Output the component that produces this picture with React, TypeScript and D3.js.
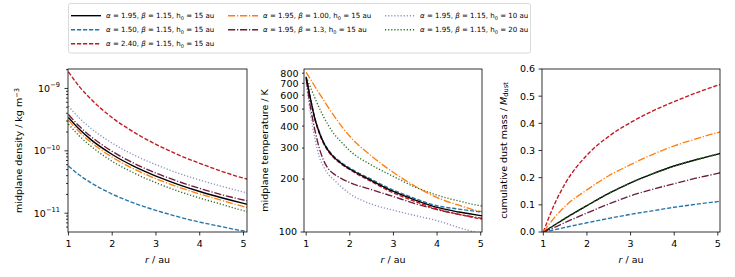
import React, { useEffect, useRef } from 'react';
import * as d3 from 'd3';

const FONT = 'DejaVu Sans, sans-serif';

// series: alpha, beta, h0 -> style
const SERIES_KEYS = ['ref', 'a150', 'a240', 'b100', 'b130', 'h10', 'h20'];
const SERIES_COLORS = ['#000000', '#2574a9', '#c4161c', '#ff7f0e', '#6b1d3d', '#8d93c2', '#2f6b1f'];
const SERIES_DASH = ['', '4.2,1.8', '4.2,1.8', '7.2,1.8,1.2,1.8', '7.2,1.8,1.2,1.8', '1.2,1.9', '1.2,1.9'];
const SERIES_ALPHA = ['1.95', '1.50', '2.40', '1.95', '1.95', '1.95', '1.95'];
const SERIES_BETA = ['1.15', '1.15', '1.15', '1.00', '1.3', '1.15', '1.15'];
const SERIES_H0 = ['15', '15', '15', '15', '15', '10', '20'];
// legend slots (column, row)
const LEGEND_SLOT = [[0, 0], [0, 1], [0, 2], [1, 0], [1, 1], [2, 0], [2, 1]];

// panel 1: midplane density (kg m^-3)
const R_DENS = [1, 1.25, 1.5, 2, 2.5, 3, 3.5, 4, 4.5, 5, 5.1];
const DENS_REF = [3.43e-10, 2.21e-10, 1.54e-10, 8.75e-11, 5.64e-11, 3.94e-11, 2.91e-11, 2.23e-11, 1.77e-11, 1.44e-11, 1.385e-11];
const DENS_A150 = [5.7e-11, 4.09e-11, 3.12e-11, 2.03e-11, 1.45e-11, 1.11e-11, 8.8e-12, 7.2e-12, 6.1e-12, 5.2e-12, 5.1e-12];
const DENS_A240 = [1.85e-9, 1.07e-9, 6.9e-10, 3.4e-10, 1.98e-10, 1.27e-10, 8.7e-11, 6.3e-11, 4.7e-11, 3.65e-11, 3.5e-11];
const DENS_B100 = [3.11e-10, 2.0e-10, 1.4e-10, 7.9e-11, 5.1e-11, 3.57e-11, 2.64e-11, 2.03e-11, 1.61e-11, 1.28e-11, 1.23e-11];
const DENS_B130 = [3.84e-10, 2.47e-10, 1.73e-10, 9.8e-11, 6.3e-11, 4.4e-11, 3.25e-11, 2.5e-11, 1.98e-11, 1.63e-11, 1.57e-11];
const DENS_H10 = [5.2e-10, 3.35e-10, 2.34e-10, 1.33e-10, 8.55e-11, 6.0e-11, 4.4e-11, 3.4e-11, 2.7e-11, 2.18e-11, 2.1e-11];
const DENS_H20 = [2.68e-10, 1.73e-10, 1.21e-10, 6.8e-11, 4.4e-11, 3.08e-11, 2.27e-11, 1.75e-11, 1.39e-11, 1.1e-11, 1.06e-11];

// panel 2: midplane temperature (K)
const R_TEMP = [1, 1.1, 1.2, 1.3, 1.4, 1.5, 1.6, 1.8, 2, 2.5, 3, 3.5, 4, 4.5, 5, 5.1];
const TEMP_REF = [760, 570, 440, 368, 322, 292, 272, 246, 228, 196, 170, 152, 138, 130, 124, 123];
const TEMP_A150 = [765, 575, 445, 372, 325, 295, 275, 249, 231, 199, 173, 155, 141, 135, 130, 129];
const TEMP_A240 = [755, 566, 436, 364, 318, 289, 269, 244, 226, 193, 167, 149, 135, 126, 119, 118];
const TEMP_B100 = [810, 738, 672, 614, 562, 514, 472, 403, 350, 270, 218, 182, 157, 142, 131, 130];
const TEMP_B130 = [740, 510, 380, 300, 255, 230, 217, 202, 191, 174, 159, 145, 134, 126, 120, 119];
const TEMP_H10 = [708, 470, 340, 268, 235, 214, 202, 181, 165, 144, 133, 124, 116, 106, 98, 97];
const TEMP_H20 = [758, 662, 578, 508, 452, 408, 372, 326, 290, 240, 207, 180, 162, 150, 141, 140];

// panel 3: cumulative dust mass / M_dust
const R_MASS = [1, 1.25, 1.5, 2, 2.5, 3, 3.5, 4, 4.5, 5, 5.1];
const MASS_REF = [0, 0.025, 0.05, 0.097, 0.142, 0.181, 0.214, 0.243, 0.266, 0.287, 0.291];
const MASS_A150 = [0, 0.008, 0.017, 0.034, 0.05, 0.065, 0.078, 0.091, 0.102, 0.112, 0.114];
const MASS_A240 = [0, 0.1, 0.178, 0.283, 0.352, 0.403, 0.445, 0.48, 0.512, 0.54, 0.545];
const MASS_B100 = [0, 0.052, 0.095, 0.155, 0.207, 0.248, 0.285, 0.317, 0.343, 0.366, 0.37];
const MASS_B130 = [0, 0.017, 0.035, 0.07, 0.103, 0.133, 0.157, 0.178, 0.198, 0.216, 0.22];
const MASS_H10 = [0, 0.025, 0.05, 0.097, 0.142, 0.181, 0.214, 0.243, 0.266, 0.287, 0.291];
const MASS_H20 = [0, 0.025, 0.05, 0.097, 0.142, 0.181, 0.214, 0.243, 0.266, 0.287, 0.291];

const X_TICKS = [1, 2, 3, 4, 5];
const DENS_MAJOR = [1e-9, 1e-10, 1e-11];
const TEMP_TICKS = [100, 200, 300, 400, 500, 600, 700, 800];
const MASS_TICKS = [0, 0.1, 0.2, 0.3, 0.4, 0.5, 0.6];

const TOP = 69;
const BOTTOM = 232;

function App() {
  const svgRef = useRef(null);

  useEffect(() => {
    const svg = d3.select(svgRef.current);
    svg.selectAll('*').remove();
    svg.style('font-family', FONT);

    const addPanel = (idx, left, right, xDomain, y, rs, series, drawOrder) => {
      const x = d3.scaleLinear().domain(xDomain).range([left, right]);
      const g = svg.append('g');
      g.append('clipPath').attr('id', `clip${idx}`)
        .append('rect')
        .attr('x', left).attr('y', TOP)
        .attr('width', right - left).attr('height', BOTTOM - TOP);

      const line = d3.line()
        .x((d) => x(d[0]))
        .y((d) => y(d[1]))
        .curve(d3.curveMonotoneX);

      const lines = g.append('g').attr('clip-path', `url(#clip${idx})`);
      drawOrder.forEach((i) => {
        const pts = rs.map((r, j) => [r, series[i][j]]);
        lines.append('path')
          .attr('d', line(pts))
          .attr('fill', 'none')
          .attr('stroke', SERIES_COLORS[i])
          .attr('stroke-width', 1.35)
          .attr('stroke-dasharray', SERIES_DASH[i] || null);
      });

      // x ticks
      X_TICKS.forEach((t) => {
        g.append('line')
          .attr('x1', x(t)).attr('x2', x(t))
          .attr('y1', BOTTOM).attr('y2', BOTTOM + 3.5)
          .attr('stroke', '#000').attr('stroke-width', 0.8);
        g.append('text')
          .attr('x', x(t)).attr('y', BOTTOM + 15)
          .attr('text-anchor', 'middle')
          .attr('font-size', 9.5)
          .text(t);
      });

      const xl = g.append('text')
        .attr('x', (left + right) / 2).attr('y', 263)
        .attr('text-anchor', 'middle')
        .attr('font-size', 9.5);
      xl.append('tspan').attr('font-style', 'italic').text('r');
      xl.append('tspan').text(' / au');

      // frame
      g.append('rect')
        .attr('x', left).attr('y', TOP)
        .attr('width', right - left).attr('height', BOTTOM - TOP)
        .attr('fill', 'none')
        .attr('stroke', '#000')
        .attr('stroke-width', 0.8);
      return g;
    };

    const yTick = (g, left, yy, len) => {
      g.append('line')
        .attr('x1', left - len).attr('x2', left)
        .attr('y1', yy).attr('y2', yy)
        .attr('stroke', '#000').attr('stroke-width', 0.8);
    };

    const yLabel = (g, xx, parts) => {
      const t = g.append('text')
        .attr('transform', `translate(${xx},${(TOP + BOTTOM) / 2}) rotate(-90)`)
        .attr('text-anchor', 'middle')
        .attr('font-size', 9.5);
      parts.forEach((p) => {
        const ts = t.append('tspan').text(p.text);
        if (p.italic) ts.attr('font-style', 'italic');
        if (p.sup) ts.attr('font-size', 6.7).attr('baseline-shift', '40%');
        if (p.sub) ts.attr('font-size', 6.7).attr('baseline-shift', '-20%');
      });
    };

    // ---- panel 1: density
    const dens = [DENS_REF, DENS_A150, DENS_A240, DENS_B100, DENS_B130, DENS_H10, DENS_H20];
    const yD = d3.scaleLog().domain([5.0e-12, 2.05e-9]).range([BOTTOM, TOP]);
    const g1 = addPanel(1, 68, 247, [0.99, 5.08], yD, R_DENS, dens, [0, 1, 2, 3, 4, 5, 6]);
    DENS_MAJOR.forEach((v) => {
      yTick(g1, 68, yD(v), 3.5);
      const exp = Math.round(Math.log10(v));
      const t = g1.append('text')
        .attr('x', 60).attr('y', yD(v) + 3.5)
        .attr('text-anchor', 'end')
        .attr('font-size', 9.5);
      t.append('tspan').text('10');
      t.append('tspan').attr('font-size', 6.7).attr('dy', -4.5).text(`\u2212${-exp}`);
    });
    [-12, -11, -10, -9].forEach((e) => {
      d3.range(2, 10).forEach((k) => {
        const v = k * 10 ** e;
        if (v > 5.0e-12 && v < 2.05e-9) yTick(g1, 68, yD(v), 2);
      });
    });
    yLabel(g1, 22, [
      { text: 'midplane density / kg m' },
      { text: '\u22123', sup: true },
    ]);

    // ---- panel 2: temperature
    const temp = [TEMP_REF, TEMP_A150, TEMP_A240, TEMP_B100, TEMP_B130, TEMP_H10, TEMP_H20];
    const yT = d3.scaleLog().domain([100, 845]).range([BOTTOM, TOP]);
    const g2 = addPanel(2, 304, 482, [0.95, 5.03], yT, R_TEMP, temp, [5, 4, 6, 3, 1, 2, 0]);
    TEMP_TICKS.forEach((v) => {
      yTick(g2, 304, yT(v), v === 100 ? 3.5 : 2);
      g2.append('text')
        .attr('x', v === 100 ? 297 : 298.5).attr('y', yT(v) + 3.4)
        .attr('text-anchor', 'end')
        .attr('font-size', 9.5)
        .text(v);
    });
    yLabel(g2, 268, [{ text: 'midplane temperature / K' }]);

    // ---- panel 3: cumulative mass
    const mass = [MASS_REF, MASS_A150, MASS_A240, MASS_B100, MASS_B130, MASS_H10, MASS_H20];
    const yM = d3.scaleLinear().domain([0, 0.6]).range([BOTTOM, TOP]);
    const g3 = addPanel(3, 542, 720, [0.97, 5.05], yM, R_MASS, mass, [5, 0, 6, 1, 2, 3, 4]);
    MASS_TICKS.forEach((v) => {
      yTick(g3, 542, yM(v), 3.5);
      g3.append('text')
        .attr('x', 535).attr('y', yM(v) + 3.4)
        .attr('text-anchor', 'end')
        .attr('font-size', 9.5)
        .text(v.toFixed(1));
    });
    yLabel(g3, 507, [
      { text: 'cumulative dust mass / ' },
      { text: 'M', italic: true },
      { text: 'dust', sub: true },
    ]);

    // ---- legend
    const lg = svg.append('g');
    lg.append('rect')
      .attr('x', 68.5).attr('y', 3.5)
      .attr('width', 462).attr('height', 49.5)
      .attr('rx', 2)
      .attr('fill', '#fff')
      .attr('stroke', '#d0d0d0')
      .attr('stroke-width', 0.8);
    const colX = [71, 228, 385];
    const rowY = [15.7, 29.7, 43.7];
    SERIES_KEYS.forEach((key, i) => {
      const [c, r] = LEGEND_SLOT[i];
      const lx = colX[c];
      const ly = rowY[r];
      lg.append('line')
        .attr('x1', lx).attr('x2', lx + 30)
        .attr('y1', ly).attr('y2', ly)
        .attr('stroke', SERIES_COLORS[i])
        .attr('stroke-width', 1.35)
        .attr('stroke-dasharray', SERIES_DASH[i] || null);
      const t = lg.append('text')
        .attr('x', lx + 35).attr('y', ly + 2.6)
        .attr('font-size', 7.05);
      t.append('tspan').attr('font-style', 'italic').text('\u03b1');
      t.append('tspan').text(` = ${SERIES_ALPHA[i]}, `);
      t.append('tspan').attr('font-style', 'italic').text('\u03b2');
      t.append('tspan').text(` = ${SERIES_BETA[i]}, h`);
      t.append('tspan').attr('font-size', 5).attr('dy', 1.5).text('0');
      t.append('tspan').attr('dy', -1.5).text(` = ${SERIES_H0[i]} au`);
    });
  }, []);

  return (
    <svg
      ref={svgRef}
      width={735}
      height={277}
      style={{ position: 'absolute', left: 0, top: 0, background: '#fff' }}
    />
  );
}

export default App;
